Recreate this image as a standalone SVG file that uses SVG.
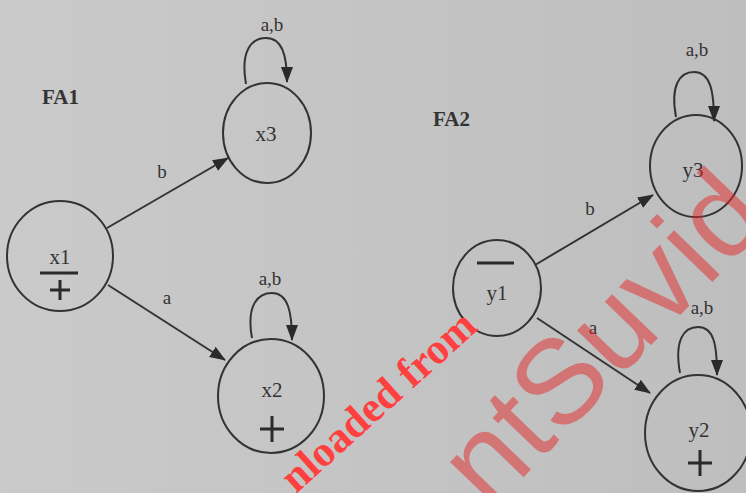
<svg xmlns="http://www.w3.org/2000/svg" width="746" height="493" viewBox="0 0 746 493">
<defs>
<marker id="ahl" markerWidth="16" markerHeight="14" refX="15" refY="7" orient="auto" markerUnits="userSpaceOnUse" viewBox="0 0 16 14">
<path d="M0,1 L16,7 L0,13 z" fill="#2a2a2a"/>
</marker>
<linearGradient id="bg" x1="0" y1="0" x2="1" y2="0">
<stop offset="0" stop-color="#cacaca"/>
<stop offset="1" stop-color="#bebebe"/>
</linearGradient>
</defs>
<style>
.st{fill:none;stroke:#333;stroke-width:2}
.ed{fill:none;stroke:#333;stroke-width:2}
.lb{font-family:"Liberation Serif",serif;font-size:21px;fill:#333;text-anchor:middle}
.el{font-family:"Liberation Serif",serif;font-size:19px;fill:#333;text-anchor:middle}
.ti{font-family:"Liberation Serif",serif;font-size:21px;font-weight:bold;fill:#333}
.mk{stroke:#2a2a2a;stroke-width:3;fill:none}
</style>
<rect width="746" height="493" fill="url(#bg)"/>
<text class="ti" x="42" y="104">FA1</text>
<text class="ti" x="433" y="126">FA2</text>
<g id="x1">
<ellipse class="st" cx="60" cy="256" rx="53" ry="55"/>
<text class="lb" x="60" y="264">x1</text>
<path class="mk" d="M40 273 H78 M60 280 V300 M50 290 H70"/>
</g>
<g id="x3">
<ellipse class="st" cx="267" cy="133" rx="44" ry="50"/>
<text class="lb" x="266" y="141">x3</text>
</g>
<g id="x2">
<ellipse class="st" cx="271" cy="396" rx="53" ry="57"/>
<text class="lb" x="272" y="397">x2</text>
<path class="mk" d="M272 416 V442 M260 429 H284"/>
</g>
<g id="y1">
<ellipse class="st" cx="497" cy="288" rx="44" ry="48"/>
<text class="lb" x="497" y="300">y1</text>
<path class="mk" d="M477 263 H514"/>
</g>
<g id="y3">
<ellipse class="st" cx="696" cy="166" rx="46" ry="51"/>
<text class="lb" x="693" y="177">y3</text>
</g>
<g id="y2">
<ellipse class="st" cx="698" cy="433" rx="53" ry="58"/>
<text class="lb" x="699" y="437">y2</text>
<path class="mk" d="M700 450 V476 M688 463 H712"/>
</g>
<g id="connectors">
<path class="ed" d="M107 228 L228 158" marker-end="url(#ahl)"/>
<path class="ed" d="M108 285 L225 360" marker-end="url(#ahl)"/>
<path class="ed" d="M246 84 C240 50 252 38 266 38 C282 38 287 55 287 82" marker-end="url(#ahl)"/>
<path class="ed" d="M252 338 C246 305 258 293 272 293 C288 293 292 312 292 340" marker-end="url(#ahl)"/>
<path class="ed" d="M535 265 L653 195" marker-end="url(#ahl)"/>
<path class="ed" d="M537 318 L650 393" marker-end="url(#ahl)"/>
<path class="ed" d="M676 117 C670 85 680 72 694 72 C710 72 714 90 714 121" marker-end="url(#ahl)"/>
<path class="ed" d="M680 373 C674 340 684 327 698 327 C714 327 717 345 717 375" marker-end="url(#ahl)"/>
<text class="el" x="162" y="178">b</text>
<text class="el" x="167" y="304">a</text>
<text class="el" x="272" y="31">a,b</text>
<text class="el" x="270" y="285">a,b</text>
<text class="el" x="590" y="215">b</text>
<text class="el" x="593" y="334">a</text>
<text class="el" x="697" y="56">a,b</text>
<text class="el" x="702" y="314">a,b</text>
</g>
<g id="watermark">
<text transform="translate(296,494) rotate(-42)" font-family="Liberation Serif,serif" font-size="43" font-weight="bold" fill="#ff4040">nloaded from</text>
<text transform="translate(490,512) rotate(-46)" font-family="Liberation Sans,sans-serif" font-size="120" letter-spacing="1" fill="#e62828" fill-opacity="0.5">ntSuvid</text>
</g>
</svg>
